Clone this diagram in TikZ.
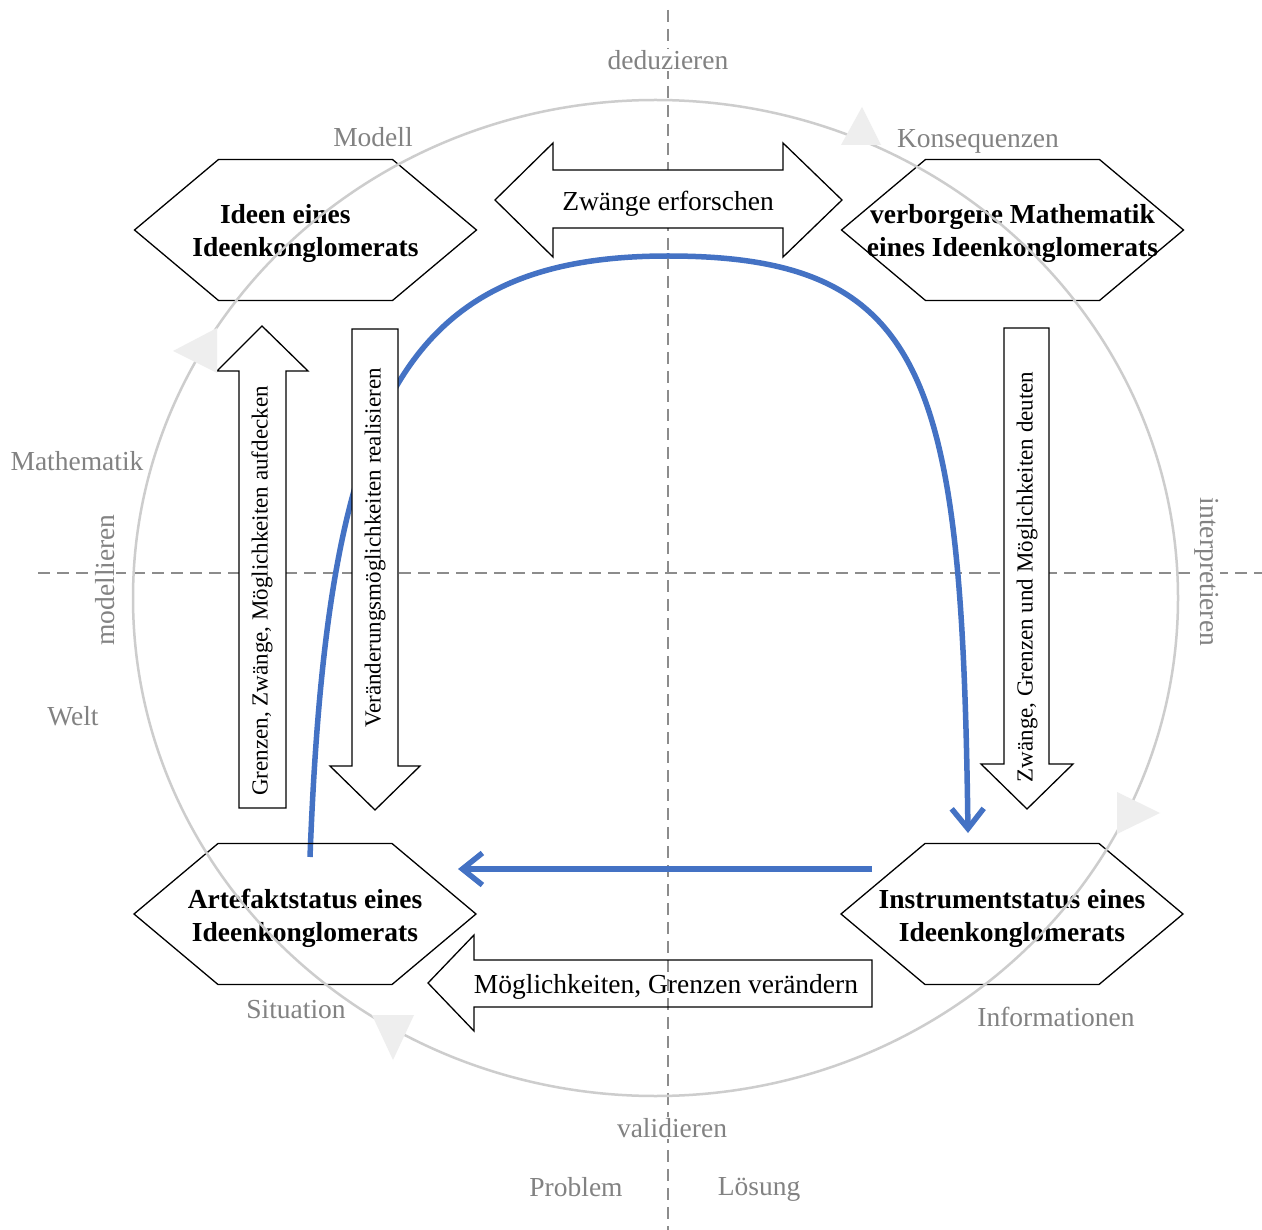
\documentclass[tikz,border=0pt]{standalone}
\usepackage{fontspec}
\setmainfont{Liberation Serif}
\usetikzlibrary{arrows.meta,calc}
\definecolor{lblgray}{RGB}{130,130,130}
\definecolor{axgray}{RGB}{140,140,140}
\definecolor{ringgray}{RGB}{205,205,205}
\definecolor{tipgray}{RGB}{238,238,238}
\definecolor{cycblue}{RGB}{68,114,196}
\begin{document}
\begin{tikzpicture}[x=1pt,y=-1pt,
 lbl/.style={text=lblgray, font=\fontsize{27.5}{33}\selectfont, inner sep=1pt},
 hexlbl/.style={font=\bfseries\fontsize{27.5}{33}\selectfont, align=center, inner sep=0pt},
 hexline/.style={draw=black, line width=1.3pt, line join=miter},
 blk/.style={draw=black, line width=1.3pt, line join=miter},
 blkw/.style={blk, fill=white},
 vtxt/.style={font=\fontsize{23}{27}\selectfont, inner sep=0pt},
 htxt/.style={font=\fontsize{27.5}{33}\selectfont, inner sep=0pt},
 axis/.style={draw=axgray, line width=1.2pt, dash pattern=on 12pt off 7pt},
 ring/.style={draw=ringgray, line width=2.5pt},
 tipshape/.style={fill=tipgray, draw=none},
 flow/.style={draw=cycblue, line width=5.5pt, -{Straight Barb[length=20pt, width=32pt]}}
]
\useasboundingbox (0,0) rectangle (1262,1230);
\fill[white] (0,0) rectangle (1262,1230);

% axes
\draw[axis] (668,10) -- (668,1230);
\draw[axis] (38,573) -- (1262,573);

% gray labels
\node[lbl, fill=white] (ded) at (668,60) {deduzieren};
\node[lbl] (mod) at (373,137) {Modell};
\node[lbl] (kon) at (978,141) {Konsequenzen};
\node[lbl] (mat) at (77,461) {Mathematik};
\node[lbl, rotate=90, fill=white] (mdl) at (105,580) {modellieren};
\node[lbl] (welt) at (73,716) {Welt};
\node[lbl, rotate=-90, fill=white] (int) at (1207,572) {interpretieren};
\node[lbl] (sit) at (296,1010) {Situation};
\node[lbl] (inf) at (1056,1017) {Informationen};
\node[lbl, fill=white] (val) at (672,1128) {validieren};
\node[lbl] (prob) at (576,1187) {Problem};
\node[lbl] (loes) at (759,1189) {Lösung};

% blue arch (behind the block arrows)
\coordinate (b1) at (310,857);
\coordinate (btop) at (668,256);
\coordinate (b2) at (968,833);
\draw[flow] (b1) .. controls (327,410) and (400,256) .. (btop)
  .. controls (930,256) and (962,380) .. (b2);

% block arrows
\draw[blkw] (495,200) -- (553,143) -- (553,170) -- (783,170) -- (783,143) -- (842,200)
  -- (783,257) -- (783,228) -- (553,228) -- (553,257) -- cycle;
\node[htxt] (zw) at (668,204) {Zwänge erforschen};

\draw[blkw] (239,808) -- (239,371) -- (217,371) -- (262,326) -- (308,371) -- (286,371) -- (286,808) -- cycle;
\node[vtxt, rotate=90] (gz) at (262,591) {Grenzen, Zwänge, Möglichkeiten aufdecken};

\draw[blkw] (352,329) -- (398,329) -- (398,766) -- (420,766) -- (375,810) -- (330,766) -- (352,766) -- cycle;
\node[vtxt, rotate=90] (vr) at (375,548) {Veränderungsmöglichkeiten realisieren};

\draw[blkw] (1004,328) -- (1049,328) -- (1049,764) -- (1073,764) -- (1027,809) -- (981,764) -- (1004,764) -- cycle;
\node[vtxt, rotate=90] (zd) at (1027,577) {Zwänge, Grenzen und Möglichkeiten deuten};

\draw[blk] (428,983) -- (474,935) -- (474,960) -- (872,960) -- (872,1007) -- (474,1007) -- (474,1031) -- cycle;
\node[htxt] (mg) at (666,987) {Möglichkeiten, Grenzen verändern};

% hexagons
\coordinate (hc1) at (305.5,230);
\coordinate (hc2) at (1012.5,230);
\coordinate (hc3) at (305,914);
\coordinate (hc4) at (1012,914);
\foreach \n in {hc1,hc2,hc3,hc4}
  \draw[hexline] ($(\n)+(-171,0)$) -- ++(84,-70.5) -- ++(174,0) -- ++(84,70.5)
    -- ++(-84,70.5) -- ++(-174,0) -- cycle;
\node[hexlbl] (h1) at (305.5,233.5) {\makebox[171pt][l]{Ideen eines}\\Ideenkonglomerats};
\node[hexlbl] (h2) at (1012.5,233.5) {verborgene Mathematik\\eines Ideenkonglomerats};
\node[hexlbl] (h3) at (305,918) {Artefaktstatus eines\\Ideenkonglomerats};
\node[hexlbl] (h4) at (1012,918) {Instrumentstatus eines\\Ideenkonglomerats};

% ring
\draw[ring] (655.5,598) ellipse [x radius=522.5, y radius=498];
\fill[tipshape] (862,107) -- (841,145) -- (881,145) -- cycle;
\fill[tipshape] (173,351) -- (217,328) -- (217,373) -- cycle;
\fill[tipshape] (1160,813) -- (1117,792) -- (1117,834) -- cycle;
\fill[tipshape] (393,1060) -- (372,1015) -- (414,1015) -- cycle;

% blue horizontal arrow
\coordinate (c1) at (872,869);
\coordinate (c2) at (458,869);
\draw[flow] (c1) -- (c2);
\end{tikzpicture}
\end{document}
